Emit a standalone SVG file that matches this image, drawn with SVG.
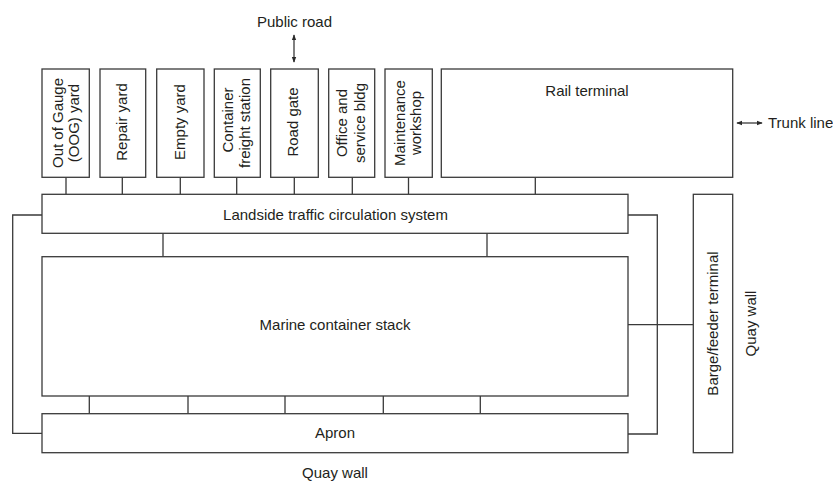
<svg xmlns="http://www.w3.org/2000/svg" width="833" height="482" viewBox="0 0 833 482">
<defs>
<style>
.box{fill:#fff;stroke:#3a3a3a;stroke-width:1.3}
.ln{fill:none;stroke:#3a3a3a;stroke-width:1.3}
.ar{fill:none;stroke:#2a2a2a;stroke-width:1.2}
text{font-family:"Liberation Sans",Arial,sans-serif;font-size:15px;fill:#231f20}
.m{text-anchor:middle}
</style>
<marker id="ah" viewBox="0 0 8 8" refX="7" refY="4" markerWidth="6" markerHeight="6" orient="auto-start-reverse" markerUnits="userSpaceOnUse">
<path d="M0,1 L8,4 L0,7 Z" fill="#2a2a2a"/>
</marker>
</defs>
<rect width="833" height="482" fill="#fff"/>

<g id="connectors">
<path class="ln" d="M66,177.3V194.3M122.3,177.3V194.3M180.3,177.3V194.3M236.7,177.3V194.3M294.3,177.3V194.3M352.3,177.3V194.3M408.5,177.3V194.3M535.3,177.3V194.3"/>
<path class="ln" d="M163,233.3V256.7M487,233.3V256.7"/>
<path class="ln" d="M89.3,396V413.7M188,396V413.7M285,396V413.7M383.3,396V413.7M480.3,396V413.7"/>
<polyline class="ln" points="42,215 12.7,215 12.7,433.3 42,433.3"/>
<polyline class="ln" points="628,215 657.3,215 657.3,434 628,434"/>
<path class="ln" d="M628,324.7H693.3"/>
<line class="ar" x1="294" y1="35" x2="294" y2="62" marker-start="url(#ah)" marker-end="url(#ah)"/>
<line class="ar" x1="737" y1="123" x2="762" y2="123" marker-start="url(#ah)" marker-end="url(#ah)"/>
</g>

<g id="public-road"><text class="m" x="294.5" y="27">Public road</text></g>
<g id="trunk-line"><text x="768" y="127.5">Trunk line</text></g>

<g id="oog-yard">
<rect class="box" x="42" y="69" width="47.3" height="108.3"/>
<text class="m" transform="translate(63,123) rotate(-90)">Out of Gauge</text>
<text class="m" transform="translate(79,123) rotate(-90)">(OOG) yard</text>
</g>
<g id="repair-yard">
<rect class="box" x="100" y="69" width="45.7" height="108.3"/>
<text class="m" transform="translate(127,122) rotate(-90)">Repair yard</text>
</g>
<g id="empty-yard">
<rect class="box" x="156.7" y="69" width="47.3" height="108.3"/>
<text class="m" transform="translate(185,122) rotate(-90)">Empty yard</text>
</g>
<g id="cfs">
<rect class="box" x="214.3" y="69" width="46" height="108.3"/>
<text class="m" transform="translate(233,120) rotate(-90)">Container</text>
<text class="m" transform="translate(250,123) rotate(-90)">freight station</text>
</g>
<g id="road-gate">
<rect class="box" x="270.7" y="69" width="47.6" height="108.3"/>
<text class="m" transform="translate(298,122) rotate(-90)">Road gate</text>
</g>
<g id="office">
<rect class="box" x="328.7" y="69" width="46" height="108.3"/>
<text class="m" transform="translate(347,123) rotate(-90)">Office and</text>
<text class="m" transform="translate(364.5,123) rotate(-90)">service bldg</text>
</g>
<g id="maintenance">
<rect class="box" x="385" y="69" width="47.3" height="108.3"/>
<text class="m" transform="translate(405,123) rotate(-90)">Maintenance</text>
<text class="m" transform="translate(421,123) rotate(-90)">workshop</text>
</g>
<g id="rail-terminal">
<rect class="box" x="441.3" y="69" width="291.4" height="108.3"/>
<text class="m" x="587" y="96">Rail terminal</text>
</g>
<g id="landside">
<rect class="box" x="42" y="194.3" width="586" height="39"/>
<text class="m" x="335.5" y="219.5">Landside traffic circulation system</text>
</g>
<g id="stack">
<rect class="box" x="42" y="256.7" width="586" height="139.3"/>
<text class="m" x="335" y="330">Marine container stack</text>
</g>
<g id="apron">
<rect class="box" x="42" y="413.7" width="586" height="39"/>
<text class="m" x="335" y="437.5">Apron</text>
</g>
<g id="barge">
<rect class="box" x="693.3" y="194.3" width="39.4" height="258.4"/>
<text class="m" transform="translate(717.5,323.5) rotate(-90)">Barge/feeder terminal</text>
</g>
<g id="quay-wall-right"><text class="m" transform="translate(755.5,323.5) rotate(-90)">Quay wall</text></g>
<g id="quay-wall-bottom"><text class="m" x="335" y="477.5">Quay wall</text></g>
</svg>
